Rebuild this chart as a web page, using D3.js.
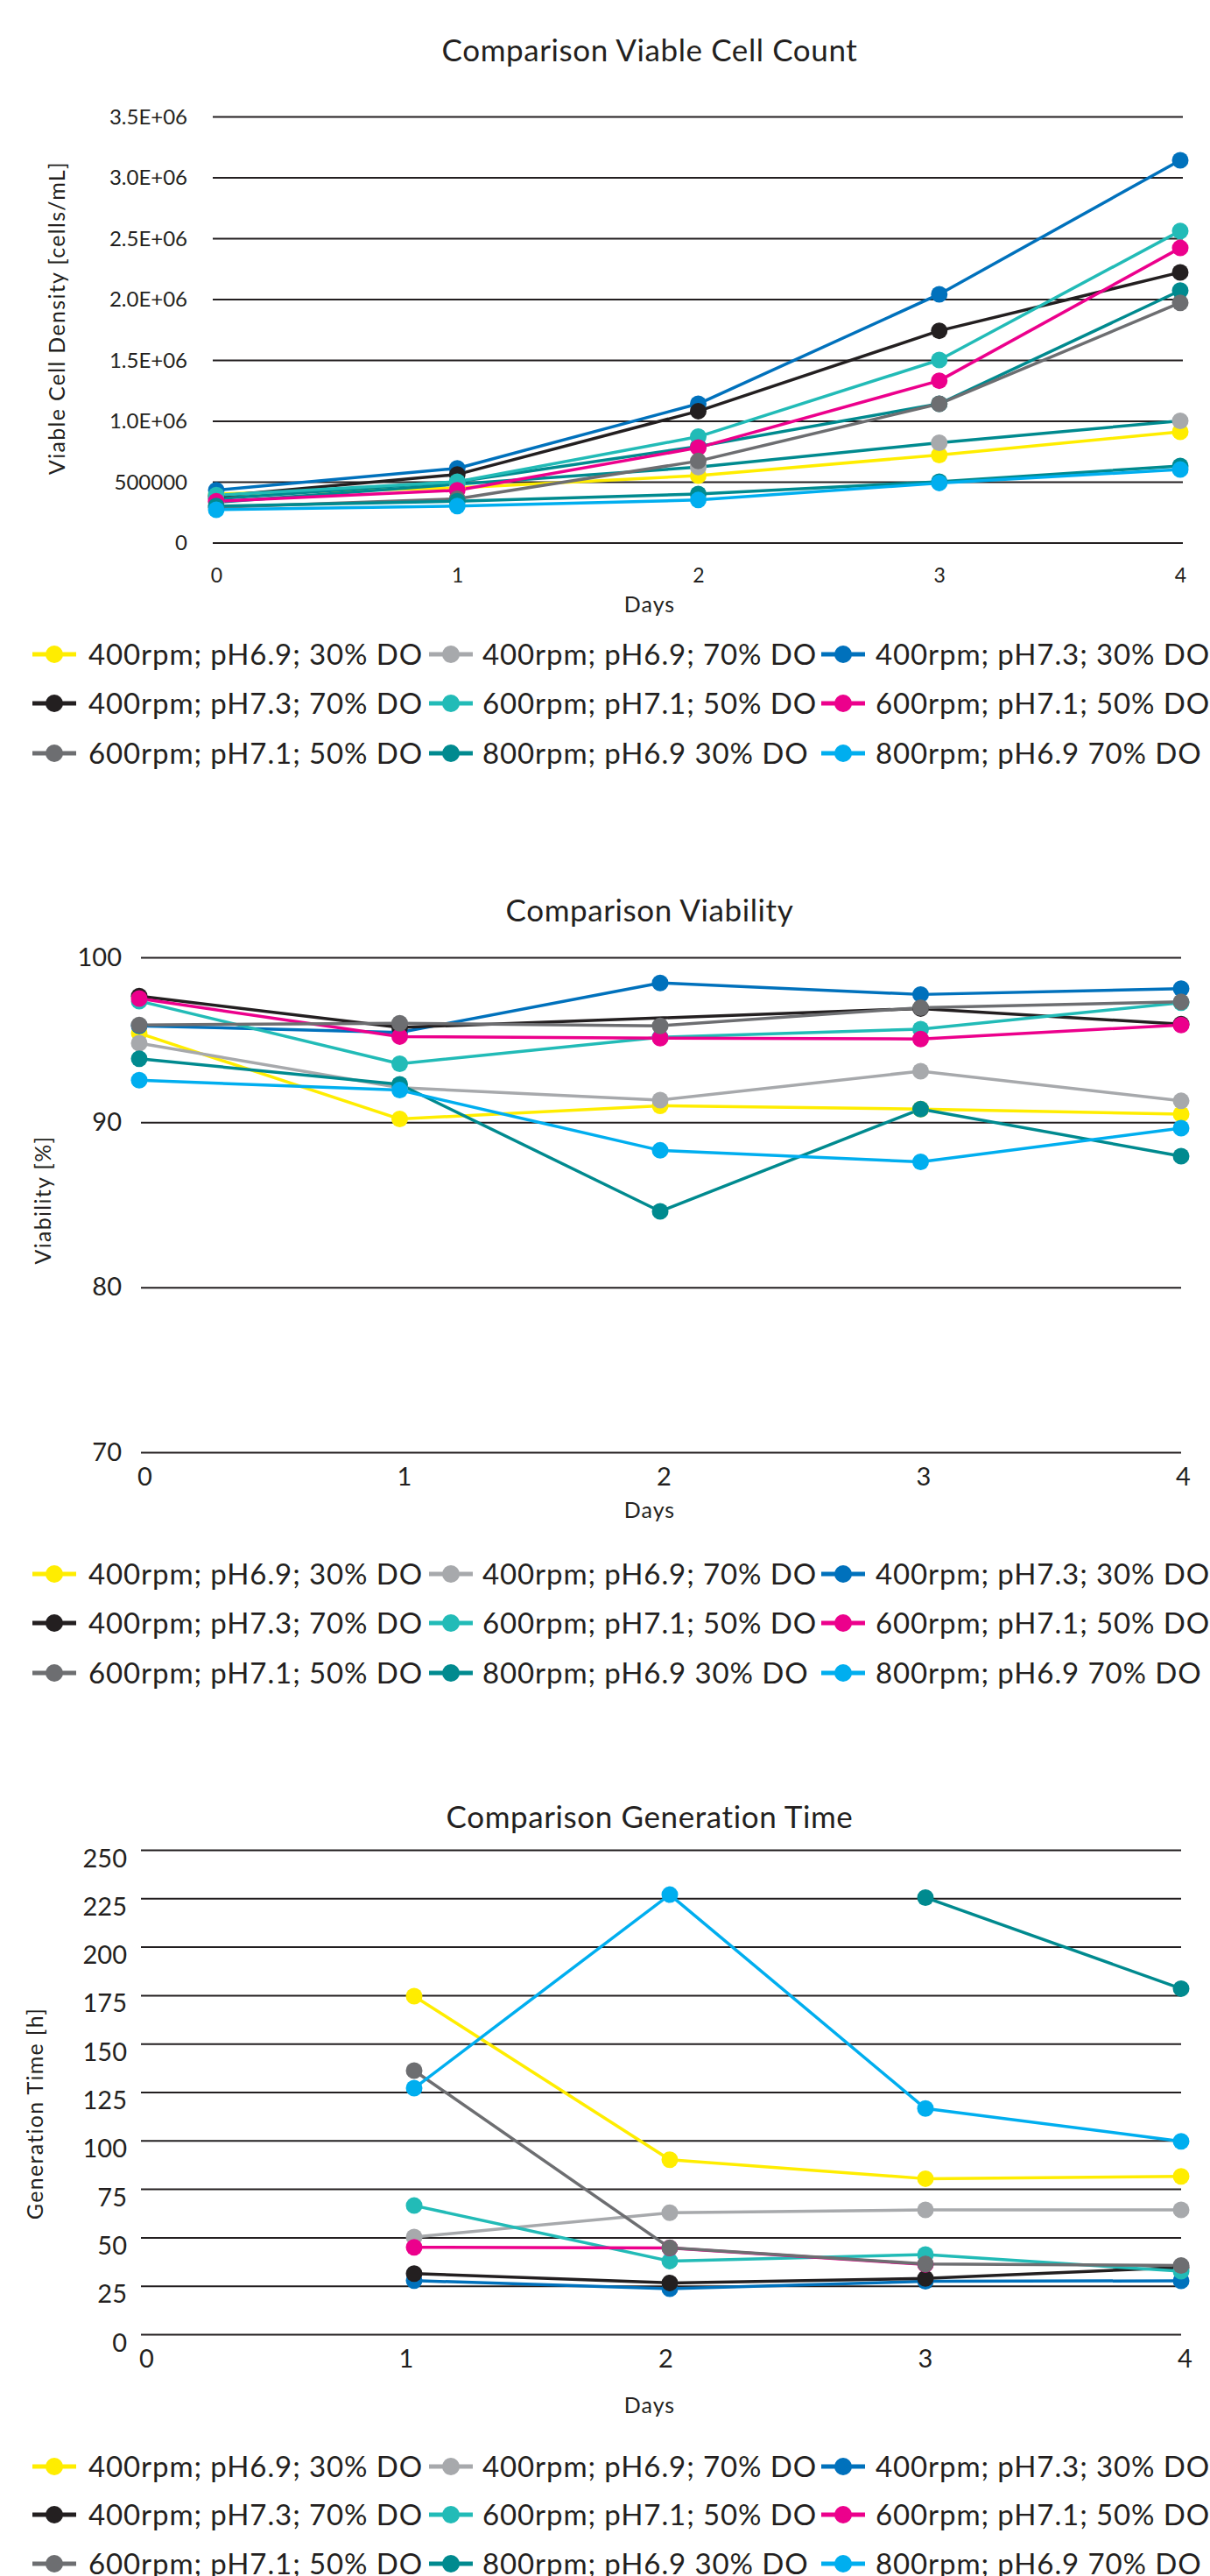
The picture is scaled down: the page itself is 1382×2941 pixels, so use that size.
<!DOCTYPE html>
<html><head><meta charset="utf-8">
<script src="https://cdn.jsdelivr.net/npm/d3@7"></script>
<style>
body{margin:0;background:#fff}
svg{display:block}
text{font-family:Lato,"Open Sans",sans-serif;font-weight:400;fill:#231F20}
</style>
</head><body>
<svg id="c" width="1382" height="2941"></svg>
<script>
// ---------------- DATA ----------------
const days = [0, 1, 2, 3, 4];
const dayLabels = ["0", "1", "2", "3", "4"];
const seriesNames = [
  "400rpm; pH6.9; 30% DO", "400rpm; pH6.9; 70% DO", "400rpm; pH7.3; 30% DO",
  "400rpm; pH7.3; 70% DO", "600rpm; pH7.1; 50% DO", "600rpm; pH7.1; 50% DO",
  "600rpm; pH7.1; 50% DO", "800rpm; pH6.9 30% DO", "800rpm; pH6.9 70% DO"
];
const seriesColors = ["#FFED00", "#A7A9AC", "#0071BC", "#231F20", "#22BBB7", "#EC008C", "#6D6E71", "#008A8F", "#00AEEF"];

// Chart 1: viable cell density [cells/mL], legend order
const viableCellDensity = [
  [400000, 450000, 550000, 720000, 910000],
  [330000, 480000, 620000, 820000, 1000000],
  [430000, 610000, 1140000, 2040000, 3140000],
  [380000, 560000, 1080000, 1740000, 2220000],
  [390000, 500000, 870000, 1500000, 2560000],
  [340000, 430000, 780000, 1330000, 2420000],
  [290000, 360000, 670000, 1140000, 1970000],
  [300000, 340000, 400000, 500000, 630000],
  [270000, 300000, 350000, 490000, 600000]
];
// an extra, unlabeled dark-teal series that appears in the first chart
const viableCellDensityExtra = [360000, 500000, 790000, 1140000, 2070000];
const vcdTicks = [0, 500000, 1000000, 1500000, 2000000, 2500000, 3000000, 3500000];
const vcdTickLabels = ["0", "500000", "1.0E+06", "1.5E+06", "2.0E+06", "2.5E+06", "3.0E+06", "3.5E+06"];

// Chart 2: viability [%]
const viability = [
  [95.4, 90.2, 91.0, 90.8, 90.5],
  [94.8, 92.1, 91.35, 93.1, 91.3],
  [95.85, 95.45, 98.45, 97.75, 98.1],
  [97.65, 95.75, null, 96.9, 95.95],
  [97.35, 93.55, 95.15, 95.65, 97.25],
  [97.5, 95.2, 95.1, 95.05, 95.9],
  [95.9, 96.0, 95.85, 96.95, 97.3],
  [93.85, 92.3, 84.6, 90.8, 87.95],
  [92.55, 91.95, 88.3, 87.6, 89.65]
];
const viabilityTicks = [70, 80, 90, 100];
const viabilityTickLabels = ["70", "80", "90", "100"];

// Chart 3: generation time [h]
const generationTime = [
  [null, 174.5, 90.1, 80.3, 81.5],
  [null, 50.2, 62.7, 64.2, 64.2],
  [null, 27.7, 23.5, 27.3, 27.6],
  [null, 31.3, 26.5, 28.8, 34.5],
  [null, 66.4, 37.8, 41.1, 32.5],
  [null, 44.9, 44.5, 36.0, null],
  [null, 136.1, 44.6, 36.3, 35.5],
  [null, null, null, 225.4, 178.4],
  [null, 127.0, 226.9, 116.5, 99.6]
];
const genTicks = [0, 25, 50, 75, 100, 125, 150, 175, 200, 225, 250];
const genTickLabels = ["0", "25", "50", "75", "100", "125", "150", "175", "200", "225", "250"];

// ---------------- DRAWING ----------------
const svg = d3.select("#c");
const INK = "#231F20";

function drawChart(cfg) {
  const g = svg.append("g");
  g.append("text").attr("x", 742).attr("y", cfg.titleY).attr("text-anchor", "middle")
    .style("font-size", "35px").style("letter-spacing", "0.6px").text(cfg.title);

  const x = d3.scaleLinear().domain([0, 4]).range(cfg.xRange);
  const xl = d3.scaleLinear().domain([0, 4]).range(cfg.xLabelRange || cfg.xRange);
  const y = d3.scaleLinear().domain(cfg.yDomain).range(cfg.yRange);

  const ya = d3.axisLeft(y).tickValues(cfg.ticks).tickFormat((d, i) => cfg.tickLabels[i])
    .tickSize(-(cfg.gridX[1] - cfg.gridX[0])).tickPadding(cfg.gridX[0] - cfg.yLabelRight);
  const yg = g.append("g").attr("transform", `translate(${cfg.gridX[0]},0)`).call(ya)
    .attr("font-size", null).attr("font-family", null);
  yg.select(".domain").remove();
  yg.selectAll(".tick line").attr("stroke", INK).attr("stroke-width", 2);
  yg.selectAll(".tick text").attr("fill", INK).style("font-size", cfg.yTickFont + "px")
    .attr("dy", null).attr("y", cfg.yTickShift);

  const xa = d3.axisBottom(xl).tickValues(days).tickFormat((d, i) => dayLabels[i]).tickSize(0);
  const xg = g.append("g").attr("transform", `translate(0,${cfg.xTickBaseline})`).call(xa)
    .attr("font-size", null).attr("font-family", null);
  xg.select(".domain").remove();
  xg.selectAll(".tick text").attr("fill", INK).attr("y", 0).attr("dy", null)
    .style("font-size", cfg.xTickFont + "px");

  g.append("text").attr("x", 742).attr("y", cfg.daysY).attr("text-anchor", "middle")
    .style("font-size", "25px").style("letter-spacing", "1px").text("Days");

  g.append("text").attr("transform", `translate(${cfg.yTitleX},${cfg.yTitleY}) rotate(-90)`)
    .attr("text-anchor", "middle").style("font-size", "25px").style("letter-spacing", cfg.yTitleSpacing + "px")
    .text(cfg.yTitle);

  const line = d3.line().x(p => x(p[0])).y(p => y(p[1]));
  const pts = s => s.values.map((v, i) => [days[i], v]).filter(p => p[1] != null);

  g.append("g").selectAll("path").data(cfg.series).join("path")
    .attr("d", s => line(pts(s))).attr("fill", "none")
    .attr("stroke", s => s.lineColor || s.color).attr("stroke-width", 3.5)
    .attr("stroke-linejoin", "round");

  cfg.series.forEach(s => {
    g.append("g").selectAll("circle").data(pts(s)).join("circle")
      .attr("cx", p => x(p[0])).attr("cy", p => y(p[1])).attr("r", 9.5).attr("fill", s.color);
  });

  // legend
  const colText = [101, 551, 1000];
  const colMark = [62, 515, 963];
  seriesNames.forEach((name, i) => {
    const r = Math.floor(i / 3), c = i % 3;
    const cy = cfg.legendRows[r];
    const lg = g.append("g");
    lg.append("line").attr("x1", colMark[c] - 25).attr("x2", colMark[c] + 25)
      .attr("y1", cy).attr("y2", cy).attr("stroke", seriesColors[i]).attr("stroke-width", 5);
    lg.append("circle").attr("cx", colMark[c]).attr("cy", cy).attr("r", 10).attr("fill", seriesColors[i]);
    lg.append("text").attr("x", colText[c]).attr("y", cy + 12).style("font-size", "33px")
      .style("letter-spacing", "0.9px").text(name);
  });
}

const baseSeries = vals => vals.map((v, i) => ({ values: v, color: seriesColors[i] }));

// chart 1 series in drawing order (light grey line appears in teal; extra teal series underneath)
const c1 = baseSeries(viableCellDensity);
c1[1].lineColor = seriesColors[7];
const c1Series = [c1[0], c1[1], { values: viableCellDensityExtra, color: seriesColors[7] }, ...c1.slice(2)];

drawChart({
  title: "Comparison Viable Cell Count", titleY: 70,
  xRange: [247, 1348], yDomain: [0, 3500000], yRange: [619.5, 133],
  gridX: [243, 1351], yLabelRight: 214, yTickFont: 24, yTickShift: 8,
  ticks: vcdTicks, tickLabels: vcdTickLabels,
  xTickBaseline: 665, xTickFont: 23, daysY: 699,
  yTitle: "Viable Cell Density [cells/mL]", yTitleX: 74, yTitleY: 363, yTitleSpacing: 1.3,
  series: c1Series, legendRows: [747, 803, 860]
});

drawChart({
  title: "Comparison Viability", titleY: 1052,
  xRange: [159, 1349], xLabelRange: [165, 1351], yDomain: [70, 100], yRange: [1658, 1093],
  gridX: [161, 1349], yLabelRight: 139, yTickFont: 29, yTickShift: 9,
  ticks: viabilityTicks, tickLabels: viabilityTickLabels,
  xTickBaseline: 1696, xTickFont: 29, daysY: 1733,
  yTitle: "Viability [%]", yTitleX: 58, yTitleY: 1370, yTitleSpacing: 1.3,
  series: baseSeries(viability), legendRows: [1797, 1853, 1910]
});

drawChart({
  title: "Comparison Generation Time", titleY: 2087,
  xRange: [181, 1349], xLabelRange: [167, 1353], yDomain: [0, 250], yRange: [2665, 2112],
  gridX: [161, 1349], yLabelRight: 145, yTickFont: 29, yTickShift: 19,
  ticks: genTicks, tickLabels: genTickLabels,
  xTickBaseline: 2703, xTickFont: 29, daysY: 2755,
  yTitle: "Generation Time [h]", yTitleX: 49, yTitleY: 2413, yTitleSpacing: 1.3,
  series: baseSeries(generationTime), legendRows: [2816, 2871, 2927]
});
</script>
</body></html>
